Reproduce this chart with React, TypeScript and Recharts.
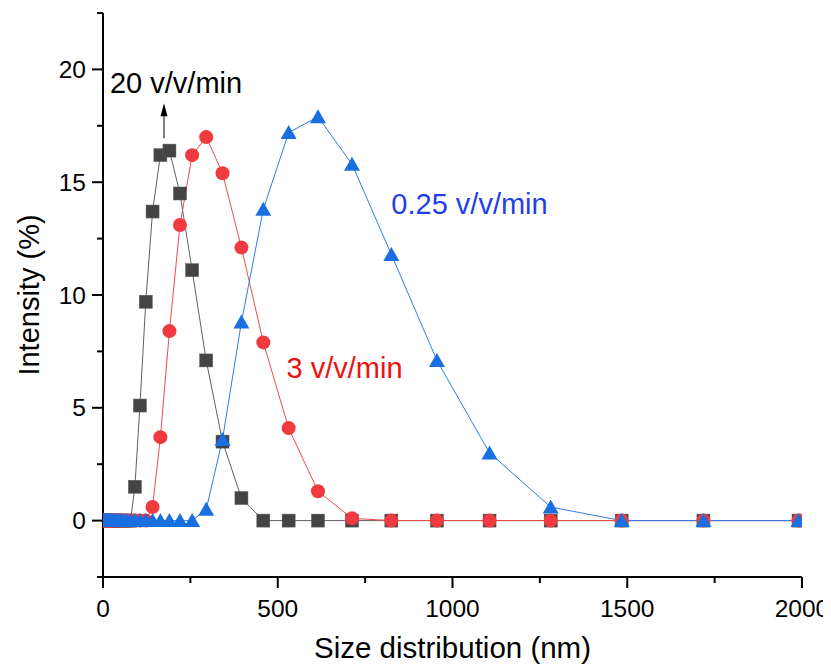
import React from "react";
import { LineChart, Line, XAxis, YAxis, ReferenceDot, ReferenceLine, Label } from "recharts";

// Hydrodynamic size bins (nm)
const sizes = [
  0.4, 0.4632, 0.5365, 0.6213, 0.7195, 0.8332, 0.9649, 1.117, 1.294, 1.499,
  1.736, 2.01, 2.328, 2.696, 3.122, 3.615, 4.187, 4.849, 5.615, 6.503,
  7.531, 8.721, 10.1, 11.7, 13.54, 15.69, 18.17, 21.04, 24.36, 28.21,
  32.67, 37.84, 43.82, 50.75, 58.77, 68.06, 78.82, 91.28, 105.7, 122.4,
  141.8, 164.2, 190.1, 220.2, 255.0, 295.3, 342.0, 396.1, 458.7, 531.2,
  615.1, 712.4, 825.0, 955.4, 1106, 1281, 1484, 1718, 1990,
];

// Intensity (%) for 20 v/v/min
const rate20 = [
  0, 0, 0, 0, 0, 0, 0, 0, 0, 0,
  0, 0, 0, 0, 0, 0, 0, 0, 0, 0,
  0, 0, 0, 0, 0, 0, 0, 0, 0, 0,
  0, 0, 0, 0, 0, 0, 0, 1.5, 5.1, 9.7,
  13.7, 16.2, 16.4, 14.5, 11.1, 7.1, 3.5, 1.0, 0, 0,
  0, 0, 0, 0, 0, 0, 0, 0, 0,
];

// Intensity (%) for 3 v/v/min
const rate3 = [
  0, 0, 0, 0, 0, 0, 0, 0, 0, 0,
  0, 0, 0, 0, 0, 0, 0, 0, 0, 0,
  0, 0, 0, 0, 0, 0, 0, 0, 0, 0,
  0, 0, 0, 0, 0, 0, 0, 0, 0, 0,
  0.6, 3.7, 8.4, 13.1, 16.2, 17.0, 15.4, 12.1, 7.9, 4.1,
  1.3, 0.1, 0, 0, 0, 0, 0, 0, 0,
];

// Intensity (%) for 0.25 v/v/min
const rate025 = [
  0, 0, 0, 0, 0, 0, 0, 0, 0, 0,
  0, 0, 0, 0, 0, 0, 0, 0, 0, 0,
  0, 0, 0, 0, 0, 0, 0, 0, 0, 0,
  0, 0, 0, 0, 0, 0, 0, 0, 0, 0,
  0, 0, 0, 0, 0, 0.5, 3.6, 8.8, 13.8, 17.2,
  17.9, 15.8, 11.8, 7.1, 3.0, 0.6, 0, 0, 0,
];

const xTicks = [0, 250, 500, 750, 1000, 1250, 1500, 1750, 2000];
const yTicks = [-2.5, 0, 2.5, 5, 7.5, 10, 12.5, 15, 17.5, 20, 22.5];

const data = sizes.map((s, i) => ({
  size: s,
  r20: rate20[i],
  r3: rate3[i],
  r025: rate025[i],
}));

const FONT = "'Liberation Sans', Arial, Helvetica, sans-serif";

const XTick = (props: any) => {
  const { x, y, payload } = props;
  const v = payload.value;
  const major = v % 500 === 0;
  return (
    <g>
      <line x1={x} x2={x} y1={y} y2={y + (major ? 11 : 6)} stroke="#000" strokeWidth={2} />
      {major && (
        <text x={x} y={y + 40} textAnchor="middle" fontSize={24.5} fill="#000" fontFamily={FONT}>
          {v}
        </text>
      )}
    </g>
  );
};

const YTick = (props: any) => {
  const { x, y, payload } = props;
  const v = payload.value;
  const major = Math.abs(v % 5) < 1e-9;
  return (
    <g>
      <line x1={x - (major ? 11 : 6)} x2={x} y1={y} y2={y} stroke="#000" strokeWidth={2} />
      {major && (
        <text x={x - 17} y={y + 8.5} textAnchor="end" fontSize={24.5} fill="#000" fontFamily={FONT}>
          {v}
        </text>
      )}
    </g>
  );
};

const Square = (props: any) => {
  const { cx, cy } = props;
  if (cx == null || cy == null) return null;
  return <rect x={cx - 6.5} y={cy - 6.5} width={13} height={13} fill="#444444" stroke="#5a5a5a" strokeWidth={0.5} />;
};

const Circle = (props: any) => {
  const { cx, cy } = props;
  if (cx == null || cy == null) return null;
  return <circle cx={cx} cy={cy} r={7} fill="#EF3B3F" />;
};

const Triangle = (props: any) => {
  const { cx, cy } = props;
  if (cx == null || cy == null) return null;
  return (
    <polygon
      points={`${cx},${cy - 7.5} ${cx - 8},${cy + 6.5} ${cx + 8},${cy + 6.5}`}
      fill="#1A6FE0"
    />
  );
};

const makeText = (text: string, color: string) => (props: any) => {
  const vb = props.viewBox || { x: 0, y: 0 };
  return (
    <text x={vb.x} y={vb.y} fill={color} fontSize={29} fontFamily={FONT} textAnchor="start">
      {text}
    </text>
  );
};

const Arrow = (props: any) => {
  const { x1, y1, x2, y2 } = props;
  if (x1 == null) return null;
  const top = Math.min(y1, y2);
  const bottom = Math.max(y1, y2);
  return (
    <g>
      <line x1={x1} x2={x1} y1={bottom} y2={top + 12} stroke="#555" strokeWidth={1.5} />
      <polygon points={`${x1},${top} ${x1 - 3.5},${top + 13} ${x1 + 3.5},${top + 13}`} fill="#000" />
    </g>
  );
};

const XTitle = (props: any) => {
  const vb = props.viewBox || { x: 95, y: 569, width: 699, height: 91 };
  return (
    <text x={vb.x + vb.width / 2} y={vb.y + 81} textAnchor="middle" fontSize={29.5} fill="#000" fontFamily={FONT}>
      Size distribution (nm)
    </text>
  );
};

const YTitle = (props: any) => {
  const vb = props.viewBox || { x: 0, y: 5, width: 95, height: 564 };
  const cx = 31;
  const cy = vb.y + vb.height / 2;
  return (
    <text
      x={cx}
      y={cy}
      transform={`rotate(-90, ${cx}, ${cy})`}
      textAnchor="middle"
      fontSize={29}
      fill="#000"
      fontFamily={FONT}
    >
      Intensity (%)
    </text>
  );
};

export default function App() {
  return (
    <div style={{ width: 823, height: 660, background: "#fff" }}>
      <LineChart width={823} height={660} data={data} margin={{ top: 5, right: 29, bottom: 0, left: 0 }}>
        <XAxis
          dataKey="size"
          type="number"
          domain={[0, 2000]}
          ticks={xTicks}
          interval={0}
          allowDataOverflow
          height={91}
          tickLine={false}
          tickSize={0}
          tickMargin={0}
          tick={<XTick />}
          axisLine={{ stroke: "#000", strokeWidth: 2 }}
          label={<Label content={<XTitle />} />}
        />
        <YAxis
          type="number"
          domain={[-2.5, 22.5]}
          ticks={yTicks}
          interval={0}
          allowDataOverflow
          width={95}
          tickLine={false}
          tickSize={0}
          tickMargin={0}
          tick={<YTick />}
          axisLine={{ stroke: "#000", strokeWidth: 2 }}
          label={<Label content={<YTitle />} />}
        />
        <Line
          dataKey="r20"
          stroke="#606060"
          strokeWidth={1}
          dot={<Square />}
          activeDot={false}
          isAnimationActive={false}
        />
        <Line
          dataKey="r3"
          stroke="#F04A4A"
          strokeWidth={1}
          dot={<Circle />}
          activeDot={false}
          isAnimationActive={false}
        />
        <Line
          dataKey="r025"
          stroke="#2F7DE6"
          strokeWidth={1}
          dot={<Triangle />}
          activeDot={false}
          isAnimationActive={false}
        />
        <ReferenceLine
          segment={[
            { x: 174.5, y: 16.95 },
            { x: 174.5, y: 18.5 },
          ]}
          shape={<Arrow />}
        />
        <ReferenceDot x={20} y={18.94} r={0} fill="none" stroke="none" label={makeText("20 v/v/min", "#000")} />
        <ReferenceDot x={825} y={13.57} r={0} fill="none" stroke="none" label={makeText("0.25 v/v/min", "#1F3FE8")} />
        <ReferenceDot x={525} y={6.33} r={0} fill="none" stroke="none" label={makeText("3 v/v/min", "#EE1111")} />
      </LineChart>
    </div>
  );
}
